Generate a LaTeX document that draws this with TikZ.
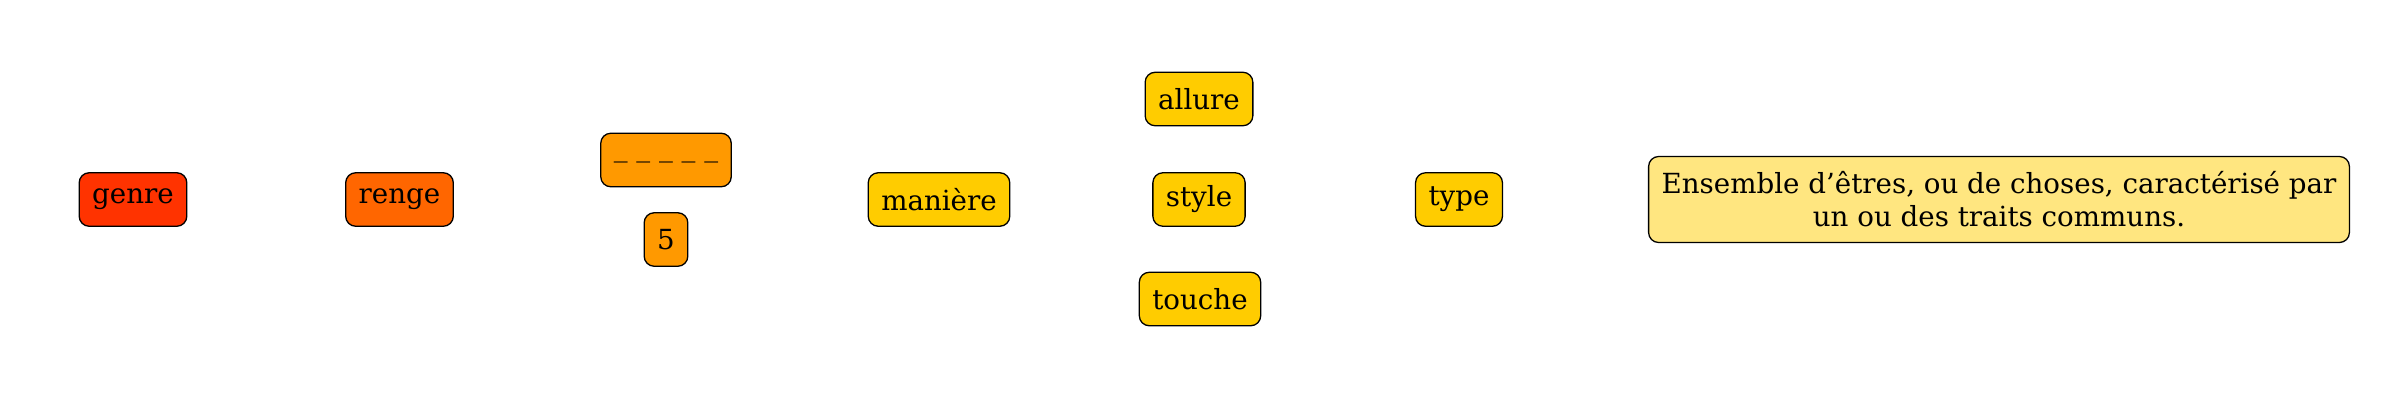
\documentclass[tikz,border=0pt]{standalone}
\usepackage{fontspec}
\setmainfont{DejaVu Serif}
\definecolor{cgenre}{HTML}{FF3300}
\definecolor{crenge}{HTML}{FF6600}
\definecolor{cmid}{HTML}{FF9900}
\definecolor{cyel}{HTML}{FFCC00}
\definecolor{cpale}{HTML}{FFE680}
\begin{document}
\begin{tikzpicture}[x=1pt,y=-1pt,
  wbox/.style={draw=black,line width=1.3pt,rounded corners=10pt,inner xsep=13pt,inner ysep=0pt,
    minimum height=53.5pt,font=\fontsize{27.7}{33}\selectfont,text=black}]
\useasboundingbox[fill=white] (0,0) rectangle (2400,400);
\node[wbox,fill=cgenre] (genre) at (133,199.5) {genre};
\node[wbox,fill=crenge] (renge) at (399.5,199.5) {renge};
\node[wbox,fill=cmid] (blank) at (666,160) {\_ \_ \_ \_ \_};
\node[wbox,fill=cmid] (five) at (666,239.5) {5};
\node[wbox,fill=cyel] (maniere) at (939,199.5) {manière};
\node[wbox,fill=cyel] (allure) at (1199,99) {allure};
\node[wbox,fill=cyel] (style) at (1199,199.5) {style};
\node[wbox,fill=cyel] (touche) at (1200,299) {touche};
\node[wbox,fill=cyel] (type) at (1459,199.5) {type};
\node[wbox,fill=cpale,minimum height=86pt,align=center] (def) at (1999,199.5) {Ensemble d’êtres, ou de choses, caractérisé par\\un ou des traits communs.};
\end{tikzpicture}
\end{document}
